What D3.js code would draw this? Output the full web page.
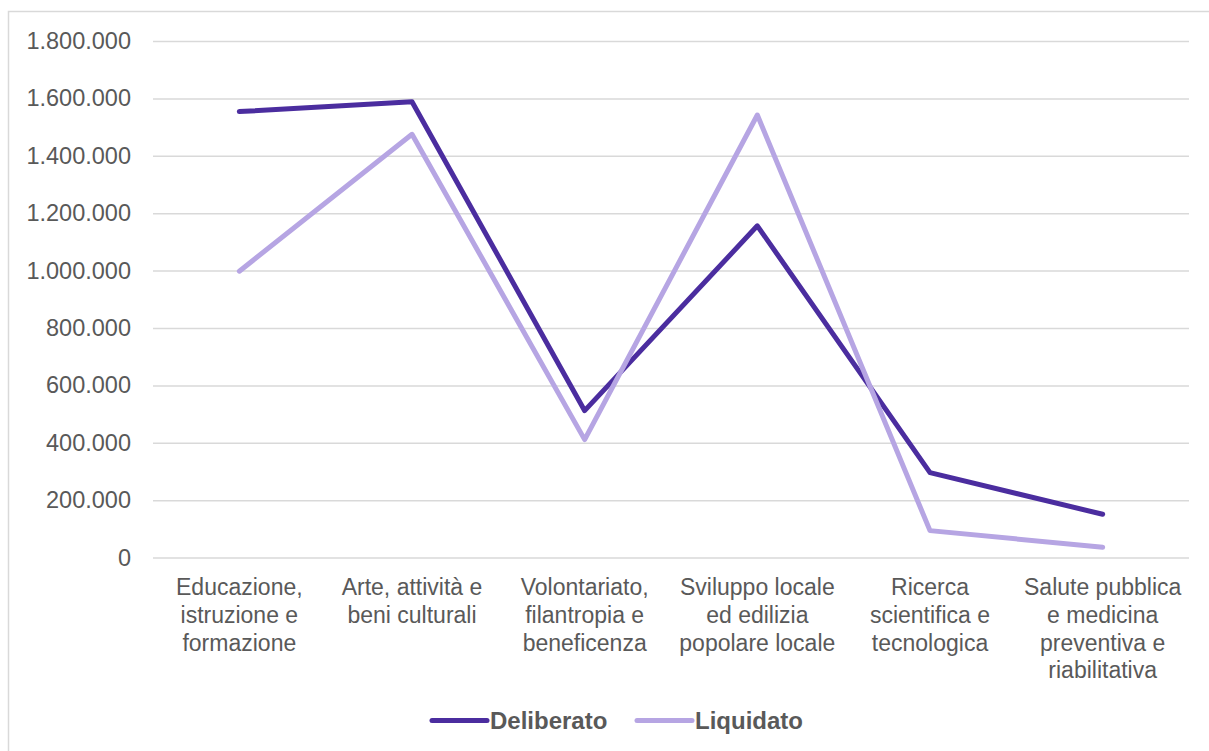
<!DOCTYPE html>
<html>
<head>
<meta charset="utf-8">
<script src="https://cdn.jsdelivr.net/npm/d3@7"></script>
<style>
  html, body { margin: 0; padding: 0; background: #fff; }
  svg { display: block; font-family: "Liberation Sans", Arial, sans-serif; }
</style>
</head>
<body>
<svg id="chart"></svg>
<script>
// Categories (x axis), wrapped as in the original
const categories = [
  ['Educazione,', 'istruzione e', 'formazione'],
  ['Arte, attività e', 'beni culturali'],
  ['Volontariato,', 'filantropia e', 'beneficenza'],
  ['Sviluppo locale', 'ed edilizia', 'popolare locale'],
  ['Ricerca', 'scientifica e', 'tecnologica'],
  ['Salute pubblica', 'e medicina', 'preventiva e', 'riabilitativa'],
];

// Series values
const deliberato = [1554000, 1588000, 512000, 1156000, 296000, 151000];
const liquidato = [998000, 1475000, 411000, 1542000, 94000, 36000];

const seriesNames = ['Deliberato', 'Liquidato'];
const yTicks = [0, 200000, 400000, 600000, 800000, 1000000, 1200000, 1400000, 1600000, 1800000];

document.addEventListener('DOMContentLoaded', () => {
  const width = 1209;
  const height = 751;
  const colors = ['#4b2d9f', '#b6a5e3'];
  const textColor = '#595959';
  const gridColor = '#d9d9d9';

  // plot area
  const plot = { left: 153, right: 1189, top: 41, bottom: 557.6 };

  const svg = d3.select('#chart')
    .attr('width', width)
    .attr('height', height);

  // outer chart border
  svg.append('rect')
    .attr('x', 8.5)
    .attr('y', 11.5)
    .attr('width', width)
    .attr('height', height)
    .attr('fill', 'none')
    .attr('stroke', gridColor)
    .attr('stroke-width', 1.5);

  const x = d3.scaleBand()
    .domain(d3.range(categories.length))
    .range([plot.left, plot.right]);

  const y = d3.scaleLinear()
    .domain([0, 1800000])
    .range([plot.bottom, plot.top]);

  const fmt = (v) => d3.format(',')(v).replace(/,/g, '.');

  // y axis: gridlines + labels
  const yAxis = d3.axisLeft(y)
    .tickValues(yTicks)
    .tickSize(-(plot.right - plot.left))
    .tickPadding(22)
    .tickFormat(fmt);

  const gy = svg.append('g')
    .attr('transform', `translate(${plot.left},0)`)
    .call(yAxis);
  gy.select('.domain').remove();
  gy.selectAll('.tick line')
    .attr('stroke', gridColor)
    .attr('stroke-width', 1.5);
  gy.selectAll('.tick text')
    .attr('fill', textColor)
    .style('font-size', '23.5px')
    .style('font-family', '"Liberation Sans", Arial, sans-serif');

  // x axis labels
  const gx = svg.append('g');
  categories.forEach((lines, i) => {
    const t = gx.append('text')
      .attr('x', x(i) + x.bandwidth() / 2)
      .attr('y', 595)
      .attr('text-anchor', 'middle')
      .attr('fill', textColor)
      .style('font-size', '23px');
    lines.forEach((line, j) => {
      t.append('tspan')
        .attr('x', x(i) + x.bandwidth() / 2)
        .attr('dy', j === 0 ? 0 : 27.8)
        .text(line);
    });
  });

  // lines
  const line = d3.line()
    .x((d, i) => x(i) + x.bandwidth() / 2)
    .y((d) => y(d));

  [deliberato, liquidato].forEach((values, k) => {
    svg.append('path')
      .datum(values)
      .attr('fill', 'none')
      .attr('stroke', colors[k])
      .attr('stroke-width', 5)
      .attr('stroke-linecap', 'round')
      .attr('stroke-linejoin', 'round')
      .attr('d', line);
  });

  // legend
  const legendY = 720.5;
  const legendItems = [{ x: 432 }, { x: 637 }];
  seriesNames.forEach((name, k) => {
    const g = svg.append('g').attr('transform', `translate(${legendItems[k].x},${legendY})`);
    g.append('line')
      .attr('x1', 0)
      .attr('x2', 55)
      .attr('stroke', colors[k])
      .attr('stroke-width', 5)
      .attr('stroke-linecap', 'round');
    g.append('text')
      .attr('x', 58)
      .attr('y', 8.5)
      .attr('fill', textColor)
      .style('font-size', '24px')
      .style('font-weight', 'bold')
      .text(name);
  });
});
</script>
</body>
</html>
